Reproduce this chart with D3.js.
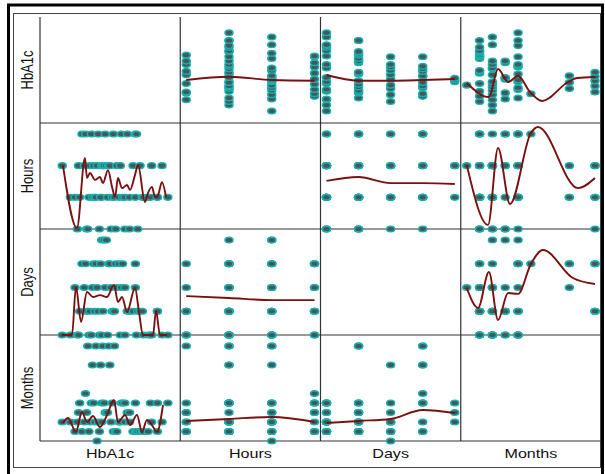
<!DOCTYPE html>
<html>
<head>
<meta charset="utf-8">
<script src="https://cdn.jsdelivr.net/npm/d3@7"></script>
<style>
  body { margin: 0; background: #fff; }
  svg { display: block; }
  text { font-family: "Liberation Sans", Arial, sans-serif; fill: #111; }
</style>
</head>
<body>
<svg id="chart" width="605" height="474"></svg>
<script>
// variables of the matrix, in order
const vars = ["HbA1c", "Hours", "Days", "Months"];

// one entry per patient
const hba1c  = [5.1, 5.8, 6.2, 6.4, 6.5, 6.6, 6.8, 7.0, 7.1, 7.2, 7.3, 7.4, 7.5, 7.6, 7.7, 7.8, 7.9, 8.0, 8.1, 8.2,
                8.3, 8.5, 8.4, 8.5, 8.6, 8.7, 8.8, 8.9, 9.0, 9.1, 9.2, 9.3, 9.4, 9.5, 9.6, 9.7, 9.8, 10.0, 10.1, 10.2,
                10.3, 10.5, 10.5, 10.7, 10.9, 10.9, 11.2, 11.4, 11.4, 11.5, 11.6, 11.8, 12.0, 12.1, 12.5, 12.7, 12.8, 13.3, 13.3, 13.7, 14.2];
const hours  = [3, 2, 2, 1, 3, 2, 4, 3, 4, 1, 1, 2, 3, 4, 2, 3, 2, 2, 3, 4,
                1, 2, 2, 3, 3, 3, 4, 3, 2, 3, 3, 1, 2, 4, 2, 1, 3, 2, 3, 4,
                2, 1, 2, 4, 2, 1, 3, 4, 2, 4, 1, 3, 2, 2, 2, 2, 3, 2, 2, 3, 2];
const days   = [1, 1, 3, 1, 1, 2, 4, 3, 4, 2, 2, 1, 2, 1, 3, 4, 2, 4, 3, 2,
                1, 5, 4, 1, 2, 5, 3, 5, 1, 4, 4, 3, 2, 2, 2, 4, 3, 4, 1, 3,
                4, 1, 3, 2, 2, 2, 2, 4, 3, 1, 2, 2, 2, 1, 1, 1, 1, 2, 2, 1, 1];
const months = [3, 3, 2, 3, 4, 5, 2, 3, 6, 4, 11, 2, 3, 5, 9, 5, 3, 11, 1, 3,
                2, 3, 9, 5, 11, 5, 4, 4, 4, 11, 9, 3, 5, 2, 11, 2, 2, 3, 3, 5,
                5, 5, 3, 4, 3, 4, 2, 5, 2, 2, 2, 2, 2, 2, 2, 5, 3, 2, 5, 3, 5];

// axis extents of each variable
const hba1cDomain = [3.7, 14.75];
const hoursDomain = [1, 4];
const daysDomain = [1, 5];
const monthsDomain = [1, 11];

// smoother lines: [x value, y value]
const fitHbA1cHours = [[1, 8.70], [2, 9.08], [3, 8.70], [4, 8.62]];
const fitHbA1cDays = [[1, 9.28], [2, 8.62], [3, 8.62], [4, 8.70], [5, 8.82]];
const fitHbA1cMonths = [[1, 8.35], [2.73, 6.72], [3.44, 9.98], [4.22, 8.47], [5, 9.17], [5.93, 7.31],
                        [6.87, 6.26], [8.9, 8.47], [9.6, 8.93], [11, 9.05]];
const fitHoursHbA1c = [[5.16, 3.02], [6.37, 1.03], [7.06, 3.24], [7.23, 2.61], [7.49, 2.77], [7.92, 2.55],
                       [8.35, 2.64], [8.61, 2.45], [9.04, 2.86], [9.39, 2.33], [9.65, 2.01], [9.90, 2.61],
                       [10.25, 2.29], [10.68, 2.39], [10.94, 2.23], [11.37, 2.71], [11.63, 3.02], [12.23, 1.85],
                       [12.49, 2.14], [12.83, 2.33], [13.09, 2.01], [13.35, 2.07], [13.69, 2.48], [14.04, 2.01]];
const fitHoursDays = [[1, 2.52], [2, 2.64], [3, 2.45], [4, 2.45], [5, 2.42]];
const fitHoursMonths = [[1, 3.02], [2.66, 1.13], [3.44, 3.56], [4.37, 1.79], [6.0, 4.03], [6.55, 4.22],
                        [9.67, 2.29], [11, 2.61]];
const fitDaysHbA1c = [[5.08, 1], [5.94, 1], [6.28, 3.02], [6.72, 1.55], [7.23, 2.81], [7.75, 2.60],
                      [8.35, 2.68], [8.96, 2.60], [9.56, 3.11], [9.90, 2.39], [10.25, 2.60], [10.68, 1.97],
                      [11.37, 2.98], [11.71, 1.97], [12.06, 1], [12.92, 1], [13.18, 2.01], [13.52, 1], [14.13, 1]];
const fitDaysHours = [[1, 2.64], [2, 2.56], [3, 2.47], [4, 2.47]];
const fitDaysMonths = [[1, 2.98], [1.88, 2.14], [2.73, 3.65], [3.44, 1.63], [4.22, 2.77], [5, 2.73],
                       [6, 3.99], [6.94, 4.58], [9.28, 3.4], [11, 3.15]];
const fitMonthsHbA1c = [[5.16, 2.89], [5.60, 3.42], [6.28, 1.95], [6.80, 4.05], [7.23, 3.0], [7.75, 3.63],
                        [8.35, 2.47], [8.96, 3.74], [9.56, 5.32], [9.90, 3.0], [10.51, 3.74], [10.94, 2.68],
                        [11.54, 3.74], [11.97, 1.95], [12.40, 3.21], [12.83, 2.68], [13.26, 1.95], [13.78, 4.79]];
const fitMonthsHours = [[1, 3.11], [2, 3.32], [3, 3.53], [4, 3.0]];
const fitMonthsDays = [[1, 2.89], [2, 3.11], [3, 3.32], [4, 4.26], [5, 3.95]];

const columns = [hba1c, hours, days, months];
const domains = [hba1cDomain, hoursDomain, daysDomain, monthsDomain];
const fits = {
  "HbA1c|Hours": fitHbA1cHours, "HbA1c|Days": fitHbA1cDays, "HbA1c|Months": fitHbA1cMonths,
  "Hours|HbA1c": fitHoursHbA1c, "Hours|Days": fitHoursDays, "Hours|Months": fitHoursMonths,
  "Days|HbA1c": fitDaysHbA1c, "Days|Hours": fitDaysHours, "Days|Months": fitDaysMonths,
  "Months|HbA1c": fitMonthsHbA1c, "Months|Hours": fitMonthsHours, "Months|Days": fitMonthsDays
};

// layout
const left0 = 40, top0 = 17, cellW = 140.25, cellH = 106;
const padX = 6, padTop = 11;
const n = vars.length;
const right0 = left0 + n * cellW, bottom0 = top0 + n * cellH;

const svg = d3.select("#chart");

// outer heavy frame (bottom edge falls outside the picture)
svg.append("path")
  .attr("d", `M8.5,474 V5 H602.5 V474`)
  .attr("fill", "none").attr("stroke", "#000").attr("stroke-width", 3);

// inner thin frame
svg.append("rect")
  .attr("x", 13.5).attr("y", 13.5).attr("width", 587).attr("height", 454)
  .attr("fill", "none").attr("stroke", "#444").attr("stroke-width", 1);

// panel separators
const grid = svg.append("g").attr("stroke", "#333").attr("stroke-width", 1.2);
d3.range(n).forEach(c => {
  grid.append("line")
    .attr("x1", left0 + c * cellW).attr("x2", left0 + c * cellW)
    .attr("y1", top0).attr("y2", bottom0);
});
d3.range(1, n + 1).forEach(r => {
  grid.append("line")
    .attr("x1", left0).attr("x2", right0)
    .attr("y1", top0 + r * cellH).attr("y2", top0 + r * cellH);
});

const xScale = j => d3.scaleLinear().domain(domains[j]).range([padX, cellW - padX]);
const yScale = i => d3.scaleLinear().domain(domains[i]).range([cellH, padTop]);

const dotLayer = svg.append("g");
const lineLayer = svg.append("g");

for (let i = 0; i < n; i++) {
  for (let j = 0; j < n; j++) {
    if (i === j) continue;
    const x = xScale(j), y = yScale(i);
    const tx = left0 + j * cellW, ty = top0 + i * cellH;

    // points
    dotLayer.append("g")
      .attr("transform", `translate(${tx},${ty})`)
      .selectAll("ellipse")
      .data(d3.range(hba1c.length))
      .join("ellipse")
        .attr("cx", k => x(columns[j][k]))
        .attr("cy", k => y(columns[i][k]))
        .attr("rx", 4.0).attr("ry", 2.8)
        .attr("fill", "#4a5555")
        .attr("stroke", "#17b0b0")
        .attr("stroke-width", 1.5);

    // smoother
    const fit = fits[`${vars[i]}|${vars[j]}`];
    lineLayer.append("path")
      .attr("transform", `translate(${tx},${ty})`)
      .datum(fit)
      .attr("fill", "none")
      .attr("stroke", "#7a1010")
      .attr("stroke-width", 1.9)
      .attr("d", d3.line().x(d => x(d[0])).y(d => y(d[1])).curve(d3.curveMonotoneX));
  }
}

// variable names: down the left side and under the columns
const stretch = 1.24;
vars.forEach((v, i) => {
  svg.append("text")
    .attr("transform", `translate(32.5,${top0 + (i + 0.5) * cellH}) scale(${stretch},1) rotate(-90)`)
    .attr("text-anchor", "middle")
    .style("font-size", "13px")
    .text(v);
  svg.append("text")
    .attr("transform", `translate(${left0 + (i + 0.5) * cellW},457.5) scale(${stretch},1)`)
    .attr("text-anchor", "middle")
    .style("font-size", "13px")
    .text(v);
});
</script>
</body>
</html>
